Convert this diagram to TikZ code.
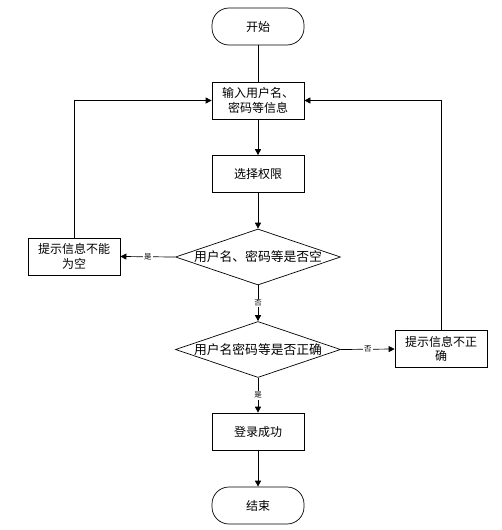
\documentclass[tikz,border=0pt]{standalone}
\usepackage{fontspec}
\setmainfont{Noto Sans CJK SC}
\usetikzlibrary{arrows.meta,shapes.geometric}
\tikzset{
	box/.style={draw, line width=0.7pt, minimum width=92pt, minimum height=37pt, inner sep=1pt, align=center, font=\fontsize{12}{14.5}\selectfont},
	terminal/.style={box, rounded corners=17pt},
	decision/.style={draw, diamond, line width=0.7pt, minimum width=165pt, minimum height=56pt, shape aspect=3, inner sep=0pt, font=\fontsize{12.8}{14}\selectfont},
	flow/.style={line width=0.7pt, -{Triangle[length=6pt,width=6pt]}},
	tag/.style={fill=white, inner sep=1pt, font=\fontsize{7.5}{8}\selectfont}
}

\begin{document}
\begin{tikzpicture}[x=1pt, y=-1pt]
	\useasboundingbox (0,0) rectangle (502,530);

	% Main column
	\node[terminal] (start) at (258, 26.5) {开始};
	\node[box] (input) at (258, 100.5) {输入用户名、\\密码等信息};
	\node[box] (role) at (258, 174) {选择权限};
	\node[decision] (empty) at (258, 257) {用户名、密码等是否空};
	\node[decision] (check) at (258, 349.5) {用户名密码等是否正确};
	\node[box] (success) at (258, 431.5) {登录成功};
	\node[terminal] (stop) at (258, 505.5) {结束};

	% Warnings
	\node[box] (warnempty) at (74, 256.5) {提示信息不能\\为空};
	\node[box] (warnwrong) at (441, 349) {提示信息不正\\确};

	% Arrows
	\draw[line width=0.7pt] (start) -- (input);
	\draw[flow] (input) -- (role);
	\draw[flow] (role) -- (empty);
	\draw[flow] (empty) -- node[tag] {否} (check);
	\draw[flow] (check) -- node[tag] {是} (success);
	\draw[flow] (success) -- (stop);
	\draw[flow] (empty.west) -- node[tag] {是} (warnempty.east);
	\draw[flow] (check.east) -- node[tag] {否} (warnwrong.west);
	\draw[flow] (warnempty.north) |- (input.west);
	\draw[flow] (warnwrong.north) |- (input.east);
\end{tikzpicture}
\end{document}
